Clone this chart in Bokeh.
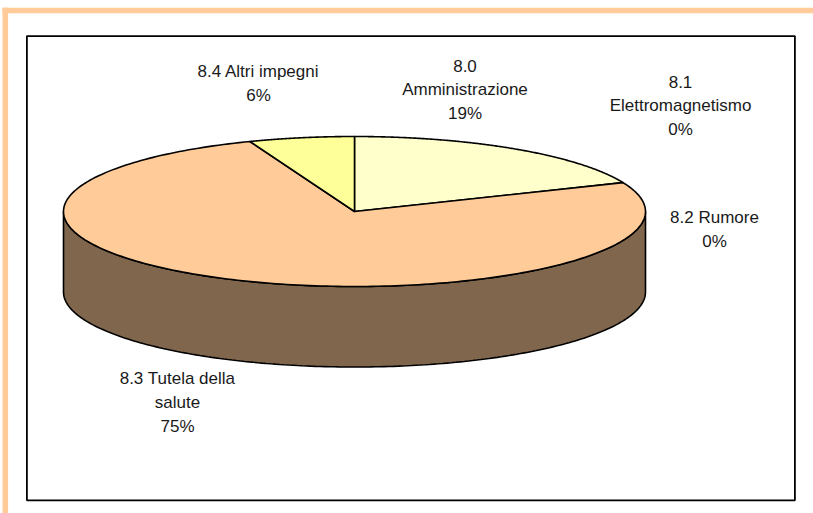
import numpy as np
from bokeh.plotting import figure
from bokeh.models import Range1d
from bokeh.core.properties import value
from bokeh.embed import file_html
from bokeh.resources import INLINE

# data
categories = ["8.0 Amministrazione", "8.1 Elettromagnetismo", "8.2 Rumore", "8.3 Tutela della salute", "8.4 Altri impegni"]
shares = [18.7, 0.0, 0.0, 75.45, 5.85]
label_lines = [
    ["8.0", "Amministrazione", "19%"],
    ["8.1", "Elettromagnetismo", "0%"],
    ["8.2 Rumore", "0%"],
    ["8.3 Tutela della", "salute", "75%"],
    ["8.4 Altri impegni", "6%"],
]
slice_colors = ["#FFFFCC", "#CCFFFF", "#FFFFFF", "#FFCC99", "#FFFF99"]

# layout (pixels of the page)
W, H = 813, 513
CX, CY, RX, RY, DEPTH = 354, 211, 291, 75, 80.5
label_x = [464.5, 680, 714, 177, 258]
label_y = [65, 81, 217, 378, 71]
LINE = 24.2
SIDE = "#7F664C"
BAND = "#FFCC99"

p = figure(width=W, height=H, output_backend="svg", toolbar_location=None,
           x_range=Range1d(0, W), y_range=Range1d(H, 0), min_border=0,
           outline_line_color=None, background_fill_color="white",
           border_fill_color="white")
p.xaxis.visible = False
p.yaxis.visible = False
p.grid.visible = False

# page band and chart frame
p.quad(left=[2, 2], right=[W, 7.6], top=[7.3, 7.3], bottom=[12.8, H],
       fill_color=BAND, line_color=None)
p.quad(left=[26.4], right=[794.4], top=[35.6], bottom=[499.8],
       fill_color="white", line_color="black", line_width=1.8)

# side wall
t = np.radians(np.linspace(90, 270, 200))
sx = CX + RX * np.sin(t)
sy = CY - RY * np.cos(t)
p.patch(np.r_[sx, sx[::-1]], np.r_[sy + DEPTH, sy[::-1]],
        fill_color=SIDE, line_color="black", line_width=1.6)

# top face slices, clockwise from 12 o'clock
total = sum(shares)
start = 0.0
for share, color in zip(shares, slice_colors):
    if share > 0:
        sweep = share / total * 2 * np.pi
        a = np.linspace(start, start + sweep, 240)
        xs = np.r_[CX, CX + RX * np.sin(a)]
        ys = np.r_[CY, CY - RY * np.cos(a)]
        p.patch(xs, ys, fill_color=color, line_color="black", line_width=1.6, line_join="round")
        start += sweep

# labels
for lines, lx, ly in zip(label_lines, label_x, label_y):
    p.text(x=[lx] * len(lines), y=[ly + i * LINE for i in range(len(lines))], text=lines,
           text_font=value("Liberation Sans"), text_font_size="17px",
           text_color="#1a1a1a", text_align="center", text_baseline="middle")

open("out.html", "w").write(file_html(p, INLINE))
